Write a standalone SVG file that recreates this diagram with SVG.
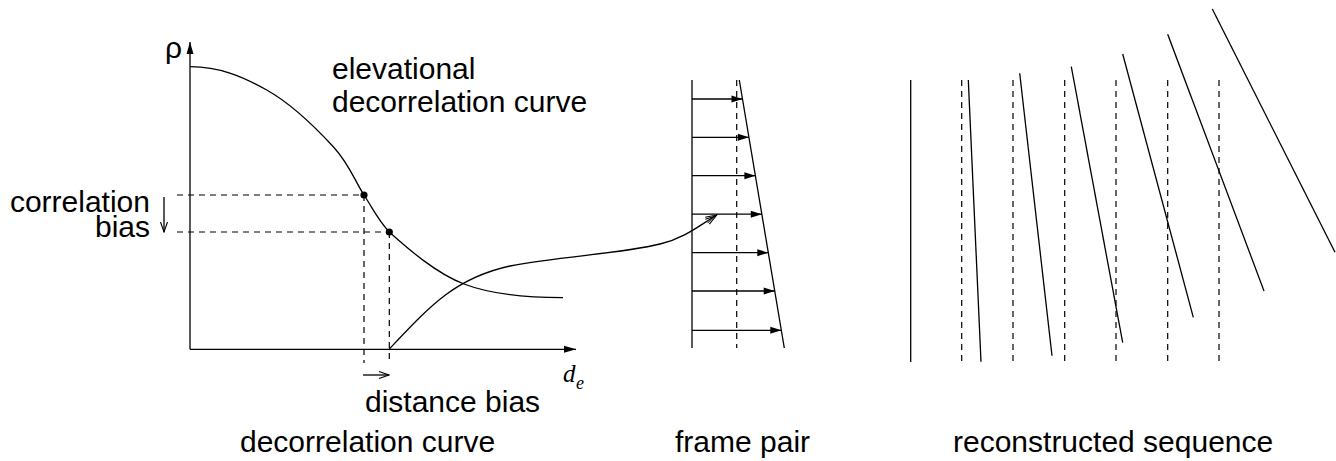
<svg xmlns="http://www.w3.org/2000/svg" width="1336" height="461" viewBox="0 0 1336 461">
<style>
  .ln{fill:none;stroke:#000;stroke-width:1.3}
  .dash{fill:none;stroke:#000;stroke-width:1.2;stroke-dasharray:6,5}
  .lbl{font-family:"Liberation Sans",Arial,Helvetica,sans-serif;font-size:30px;fill:#000}
  .math{font-family:"Liberation Serif","Times New Roman",serif;font-style:italic;fill:#000}
</style>
<defs>
  <marker id="fill" viewBox="-12 -4 13 8" refX="0" refY="0" markerWidth="13" markerHeight="8" markerUnits="userSpaceOnUse" orient="auto">
    <path d="M0,0 L-11,-3.5 L-11,3.5 Z" fill="#000"/>
  </marker>
  <marker id="axis" viewBox="-13 -4 14 8" refX="0" refY="0" markerWidth="14" markerHeight="8" markerUnits="userSpaceOnUse" orient="auto">
    <path d="M0,0 L-12,-3.5 L-12,3.5 Z" fill="#000"/>
  </marker>
  <marker id="open" viewBox="-11 -5 12 10" refX="0" refY="0" markerWidth="12" markerHeight="10" markerUnits="userSpaceOnUse" orient="auto">
    <path d="M-10,-3.5 L0,0 L-10,3.5" fill="none" stroke="#000" stroke-width="1.1"/>
  </marker>
  <marker id="hollow" viewBox="-13 -6 14 12" refX="0" refY="0" markerWidth="14" markerHeight="12" markerUnits="userSpaceOnUse" orient="auto">
    <path d="M-11,-4 L0,0 L-11,4" fill="none" stroke="#000" stroke-width="1.1"/>
    <path d="M-12,-2.2 L-3,0 L-12,2.2" fill="none" stroke="#000" stroke-width="0.9"/>
  </marker>
</defs>

<g id="decorrelation-graph">
  <line class="ln" x1="190" y1="349.3" x2="190" y2="42" marker-end="url(#axis)"/>
  <line class="ln" x1="190" y1="349.3" x2="576" y2="349.3" marker-end="url(#axis)"/>
  <text class="lbl" x="165" y="58" font-size="28">ρ</text>
  <text class="math" x="563" y="382" font-size="25">d</text>
  <text class="math" x="576" y="389" font-size="18">e</text>
  <path class="ln" d="M190,66.7 C220,66.7 242.8,76.7 266.7,90 C290.6,103.3 317.1,129.2 333.3,146.7 C349.5,164.2 354.7,180.8 364,195 C373.3,209.2 378,220 389.3,232 C406,246.8 435.1,273.1 464,284 C492.9,295 530,297.7 563,297.7"/>
  <line class="dash" x1="177" y1="195" x2="364" y2="195"/>
  <line class="dash" x1="177" y1="232" x2="389.3" y2="232"/>
  <line class="dash" x1="364" y1="195" x2="364" y2="363"/>
  <line class="dash" x1="389.3" y1="232" x2="389.3" y2="363"/>
  <circle cx="364" cy="195" r="3.6" fill="#000"/>
  <circle cx="389.3" cy="232" r="3.6" fill="#000"/>
  <line class="ln" x1="164" y1="197" x2="164" y2="232" stroke-width="1" marker-end="url(#open)"/>
  <line class="ln" x1="363" y1="375" x2="389" y2="375" stroke-width="1" marker-end="url(#open)"/>
  <text class="lbl" x="332" y="79">elevational</text>
  <text class="lbl" x="332" y="112">decorrelation curve</text>
  <text class="lbl" x="150" y="211.7" text-anchor="end">correlation</text>
  <text class="lbl" x="150" y="237" text-anchor="end">bias</text>
  <text class="lbl" x="365" y="412">distance bias</text>
  <text class="lbl" x="240" y="451.7">decorrelation curve</text>
</g>

<g id="frame-pair">
  <line class="ln" x1="692" y1="80" x2="692" y2="348"/>
  <line class="dash" x1="736.7" y1="80" x2="736.7" y2="348"/>
  <line class="ln" x1="739.3" y1="80" x2="784.3" y2="348"/>
  <line class="ln" x1="692" y1="99" x2="742.5" y2="99" marker-end="url(#fill)"/>
  <line class="ln" x1="692" y1="137.3" x2="748.9" y2="137.3" marker-end="url(#fill)"/>
  <line class="ln" x1="692" y1="175.7" x2="755.4" y2="175.7" marker-end="url(#fill)"/>
  <line class="ln" x1="692" y1="214.2" x2="761.8" y2="214.2" marker-end="url(#fill)"/>
  <line class="ln" x1="692" y1="252.7" x2="768.3" y2="252.7" marker-end="url(#fill)"/>
  <line class="ln" x1="692" y1="291" x2="774.7" y2="291" marker-end="url(#fill)"/>
  <line class="ln" x1="692" y1="330.3" x2="781.3" y2="330.3" marker-end="url(#fill)"/>
  <text class="lbl" x="675" y="451.7">frame pair</text>
</g>

<g id="reconstructed-sequence">
  <line class="ln" x1="910.7" y1="80" x2="910.7" y2="362"/>
  <line class="dash" x1="961.7" y1="80" x2="961.7" y2="362"/>
  <line class="dash" x1="1013" y1="80" x2="1013" y2="362"/>
  <line class="dash" x1="1064.7" y1="80" x2="1064.7" y2="362"/>
  <line class="dash" x1="1116" y1="80" x2="1116" y2="362"/>
  <line class="dash" x1="1167.7" y1="80" x2="1167.7" y2="362"/>
  <line class="dash" x1="1219" y1="80" x2="1219" y2="362"/>
  <line class="ln" x1="968.3" y1="80" x2="981" y2="361.7"/>
  <line class="ln" x1="1019.7" y1="73.3" x2="1052" y2="355.7"/>
  <line class="ln" x1="1071.3" y1="66.7" x2="1122.7" y2="342.7"/>
  <line class="ln" x1="1122.7" y1="54" x2="1193.3" y2="317.3"/>
  <line class="ln" x1="1167.7" y1="34.3" x2="1264" y2="291"/>
  <line class="ln" x1="1212.3" y1="9" x2="1335" y2="252.3"/>
  <text class="lbl" x="953" y="451.7">reconstructed sequence</text>
</g>

<g id="connectors">
  <path class="ln" stroke-width="1.1" d="M389.3,349 C430,306 455,278 510,266 C560,256 620,254 660,244 C685,238 700,225 716.7,215" marker-end="url(#hollow)"/>
</g>
</svg>
